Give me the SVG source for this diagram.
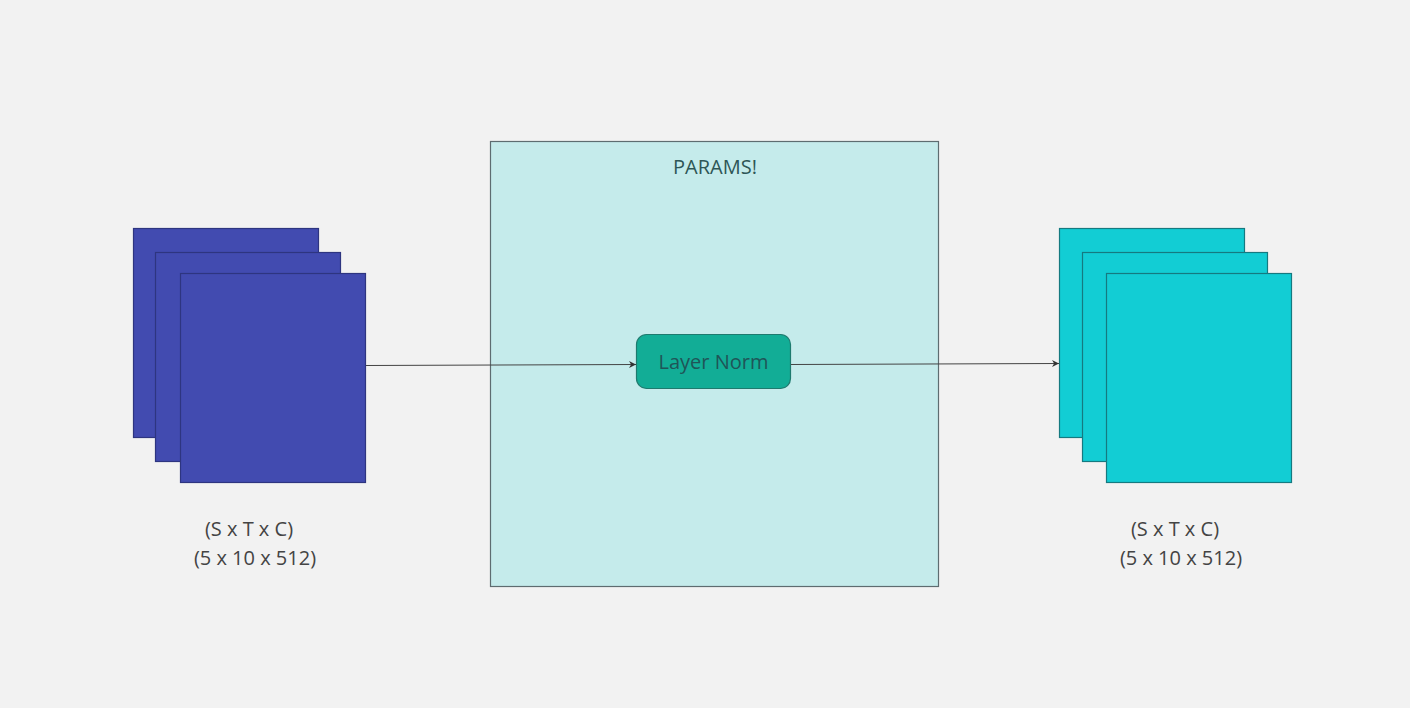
<svg xmlns="http://www.w3.org/2000/svg" width="1410" height="708" viewBox="0 0 1410 708">
<defs>
<marker id="arr" viewBox="0 0 10 10" refX="10" refY="5" markerWidth="7" markerHeight="7" markerUnits="userSpaceOnUse" orient="auto">
<path d="M0,0 L10,5 L0,10 L3,5 Z" fill="#333"/>
</marker>
<style>
.t{font-family:"Open Sans","Noto Sans",sans-serif;}
.blue{fill:#424BB0;stroke:#2E3580;stroke-width:1.2;}
.cyan{fill:#12CDD4;stroke:#157A80;stroke-width:1.2;}
.lbl{font-size:20px;fill:#444;}
.conn{stroke:#444;stroke-width:1;fill:none;}
</style>
</defs>
<rect width="1410" height="708" fill="#F2F2F2"/>
<g id="params">
<rect x="490.5" y="141.5" width="448" height="445" fill="#C5EBEB" stroke="#5E6C70" stroke-width="1.2"/>
<text class="t" x="715" y="174" font-size="20" fill="#2E5656" text-anchor="middle">PARAMS!</text>
</g>
<g id="input">
<rect class="blue" x="133.5" y="228.5" width="185" height="209"/>
<rect class="blue" x="155.5" y="252.5" width="185" height="209"/>
<rect class="blue" x="180.5" y="273.5" width="185" height="209"/>
<text class="t lbl" x="249" y="536" text-anchor="middle">(S x T x C)</text>
<text class="t lbl" x="255" y="565" text-anchor="middle">(5 x 10 x 512)</text>
</g>
<g id="output">
<rect class="cyan" x="1059.5" y="228.5" width="185" height="209"/>
<rect class="cyan" x="1082.5" y="252.5" width="185" height="209"/>
<rect class="cyan" x="1106.5" y="273.5" width="185" height="209"/>
<text class="t lbl" x="1175" y="536" text-anchor="middle">(S x T x C)</text>
<text class="t lbl" x="1181" y="565" text-anchor="middle">(5 x 10 x 512)</text>
</g>
<g id="layernorm">
<rect x="636.5" y="334.5" width="154" height="54" rx="10" fill="#12AD96" stroke="#1E7A6E" stroke-width="1.2"/>
<text class="t" x="713.5" y="369" font-size="20" fill="#1F5558" text-anchor="middle">Layer Norm</text>
</g>
<g id="connectors">
<line class="conn" x1="366" y1="365.5" x2="636" y2="364.5" marker-end="url(#arr)"/>
<line class="conn" x1="791" y1="364.5" x2="1059" y2="363.5" marker-end="url(#arr)"/>
</g>
</svg>
